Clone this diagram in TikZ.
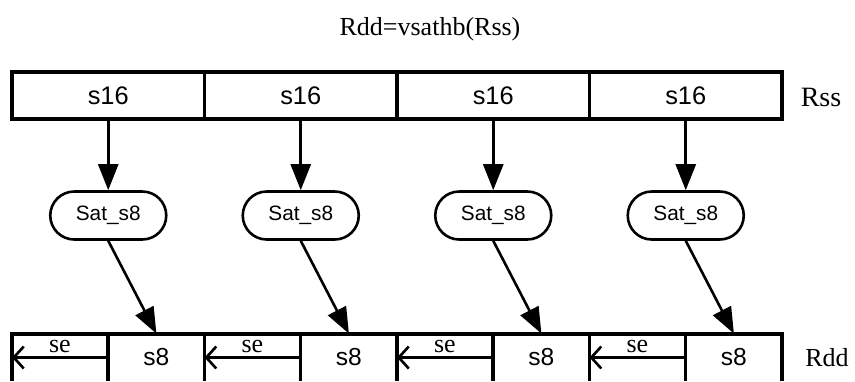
\documentclass[tikz,border=0pt]{standalone}
\usepackage{fontspec}
\setmainfont{Liberation Serif}
\setsansfont{Liberation Sans}
\usetikzlibrary{arrows.meta,positioning}

\begin{document}
\begin{tikzpicture}[
    x=0.5pt, y=-0.5pt,
    regcell/.style={rectangle, draw, line width=1.6pt, minimum width=96.25pt, minimum height=23.5pt, inner sep=0pt, font=\sffamily\fontsize{12.7}{14}\selectfont},
    satbox/.style={rectangle, draw, line width=1.3pt, rounded corners=12pt, minimum width=58pt, minimum height=24pt, inner sep=0pt, font=\sffamily\fontsize{10.4}{12}\selectfont},
    outcell/.style={rectangle, minimum width=48.1pt, minimum height=23.5pt, inner sep=0pt, font=\sffamily\fontsize{12.3}{14}\selectfont},
    reg/.style={line width=1.6pt},
    flow/.style={-{Triangle[length=13pt, width=10pt]}, line width=1.3pt},
    searrow/.style={-{Straight Barb[length=5pt, width=11pt]}, line width=1.3pt},
    lbl/.style={font=\fontsize{13}{15}\selectfont}
]
    \useasboundingbox (0,0) rectangle (855,381);

    % Title
    \node[lbl] (title) at (430,29) {Rdd=vsathb(Rss)};

    % Source register
    \foreach \i in {1,...,4}
        \node[regcell] (s\i) at ({108.25+192.5*(\i-1)},95.5) {s16};
    \node[lbl, font=\fontsize{14}{16}\selectfont] (rss) at (821,97) {Rss};

    % Saturation
    \foreach \i in {1,...,4}
        \node[satbox] (t\i) at ({108.25+192.5*(\i-1)},215.5) {Sat\_s8};

    % Destination register
    \draw[reg] (12,381) |- (782,334) -- (782,381);
    \foreach \i in {1,...,4} {
        \node[outcell] (d\i) at ({156.4+192.5*(\i-1)},357.5) {s8};
        \coordinate (e\i) at ({12+192.5*(\i-1)},357.5);
        \draw[reg] (d\i.north west) -- (d\i.south west);
        \draw[reg] (e\i |- d\i.north) -- (e\i |- d\i.south);
        \draw[searrow] (d\i.west) -- node[above, inner sep=1.5pt, lbl] {se} (e\i);
    }
    \node[lbl] (rdd) at (827,358) {Rdd};

    % Connections
    \foreach \i in {1,...,4} {
        \draw[flow] (s\i) -- (t\i);
        \draw[flow] (t\i.south) -- (d\i.north);
    }
\end{tikzpicture}
\end{document}
